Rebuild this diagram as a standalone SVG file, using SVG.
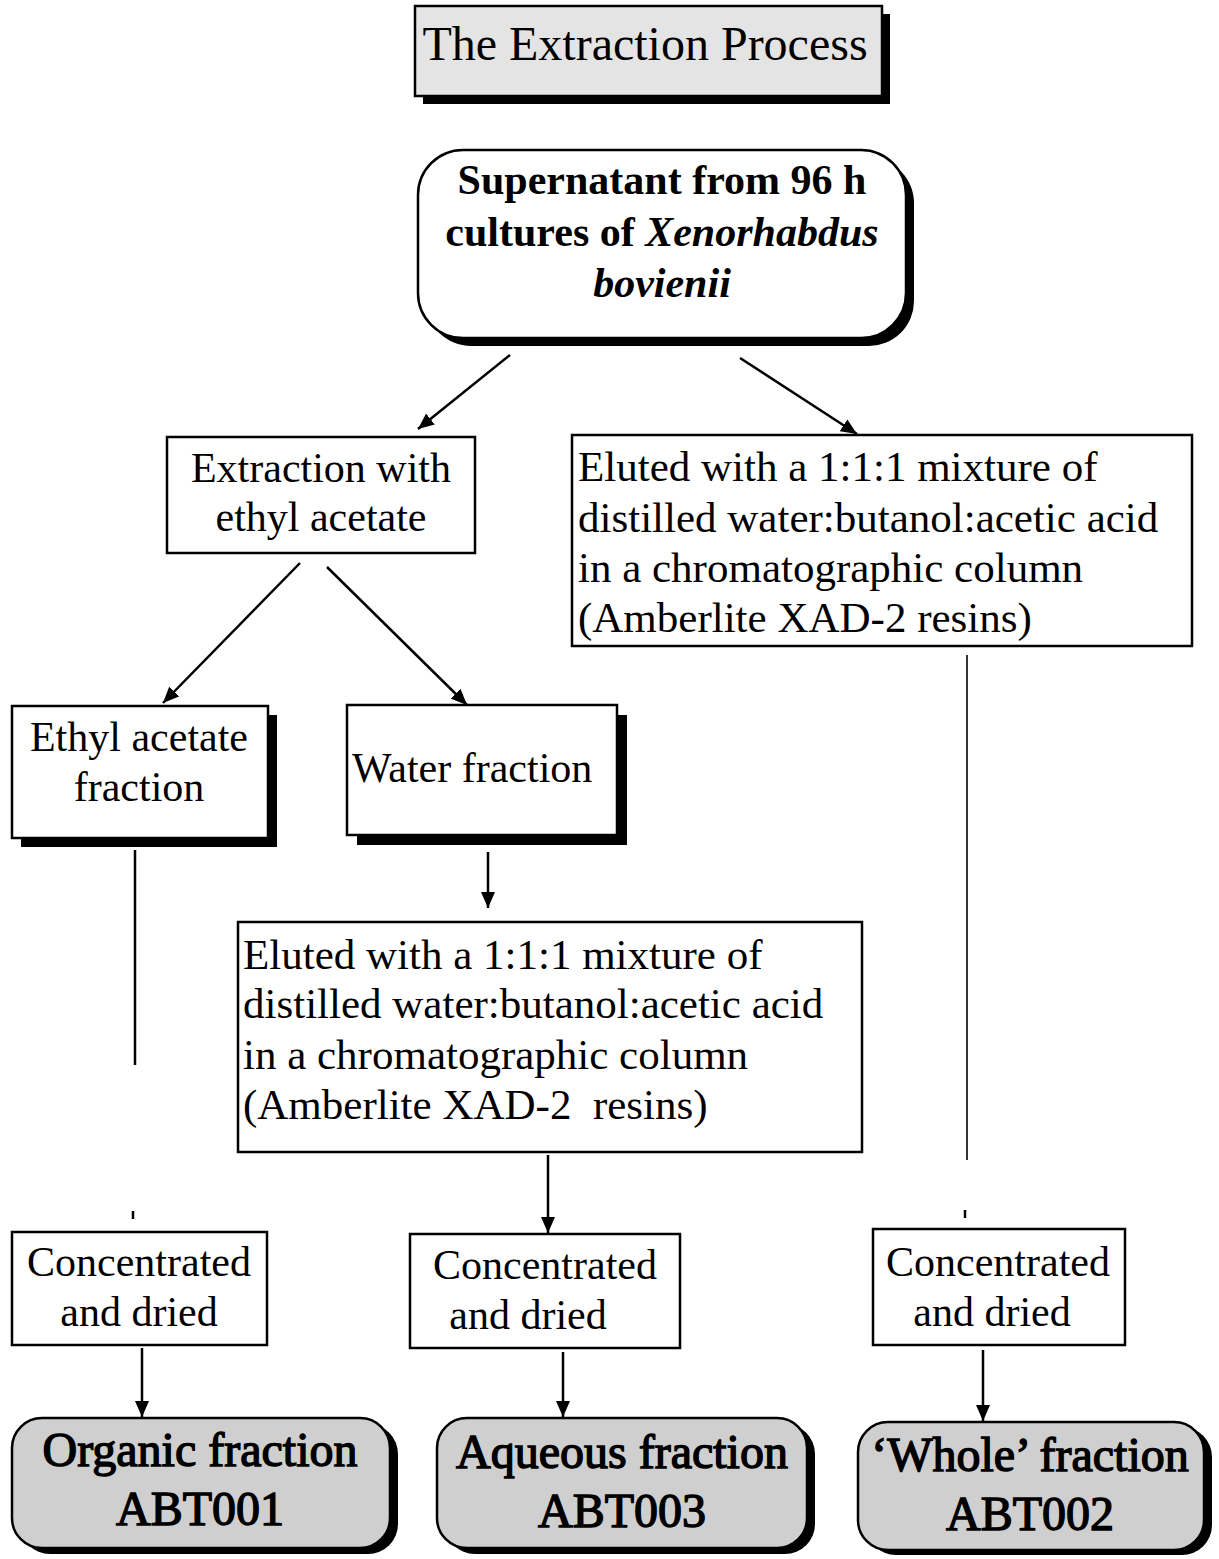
<svg xmlns="http://www.w3.org/2000/svg" width="1219" height="1559" viewBox="0 0 1219 1559">
<style>
.box{fill:#fff;stroke:#000;stroke-width:2.5}
.shadow{fill:#000}
.gbox{fill:#cfcfcf;stroke:#000;stroke-width:2.5}
.tbox{fill:#e4e4e4;stroke:#000;stroke-width:2.5}
.t{font-family:"Liberation Serif","Times New Roman",serif;font-size:42px;fill:#000}
.e{font-size:43px}
.c{text-anchor:middle}
.b{font-weight:bold}
.fin{font-family:"Liberation Serif","Times New Roman",serif;font-size:48px;fill:#000;stroke:#000;stroke-width:1.4;text-anchor:middle}
.conn{stroke:#000;stroke-width:2.5;fill:none}
.thin{stroke:#000;stroke-width:1.6;fill:none}
</style>
<defs>
<marker id="ah" markerUnits="userSpaceOnUse" markerWidth="16" markerHeight="14" refX="16" refY="7" orient="auto">
<path d="M0,0 L16,7 L0,14 z" fill="#000"/>
</marker>
</defs>

<g id="title">
<rect class="shadow" x="423" y="14" width="467" height="90"/>
<rect class="tbox" x="415" y="6" width="467" height="90"/>
<text class="t c" x="645" y="60" style="font-size:48px">The Extraction Process</text>
</g>

<g id="supernatant">
<rect class="shadow" x="426" y="158" width="488" height="188" rx="45"/>
<rect class="box" x="418" y="150" width="488" height="188" rx="45"/>
<text class="t c b" x="662" y="194">Supernatant from 96 h</text>
<text class="t c b" x="662" y="246">cultures of <tspan font-style="italic">Xenorhabdus</tspan></text>
<text class="t c b" x="662" y="297" font-style="italic">bovienii</text>
</g>

<g id="extraction">
<rect class="box" x="167" y="437" width="308" height="116"/>
<text class="t c" x="321" y="482">Extraction with</text>
<text class="t c" x="321" y="531">ethyl acetate</text>
</g>

<g id="eluted-right">
<rect class="box" x="572" y="435" width="620" height="211"/>
<text class="t e" x="578" y="481">Eluted with a 1:1:1 mixture of</text>
<text class="t e" x="578" y="532">distilled water:butanol:acetic acid</text>
<text class="t e" x="578" y="582">in a chromatographic column</text>
<text class="t e" x="578" y="632">(Amberlite XAD-2 resins)</text>
</g>

<g id="ethyl-fraction">
<rect class="shadow" x="21" y="715" width="256" height="132"/>
<rect class="box" x="12" y="706" width="256" height="132"/>
<text class="t c" x="139" y="751">Ethyl acetate</text>
<text class="t c" x="139" y="801">fraction</text>
</g>

<g id="water-fraction">
<rect class="shadow" x="357" y="715" width="270" height="130"/>
<rect class="box" x="347" y="705" width="270" height="130"/>
<text class="t" x="352" y="782">Water fraction</text>
</g>

<g id="eluted-middle">
<rect class="box" x="238" y="922" width="624" height="230"/>
<text class="t e" x="243" y="969">Eluted with a 1:1:1 mixture of</text>
<text class="t e" x="243" y="1018">distilled water:butanol:acetic acid</text>
<text class="t e" x="243" y="1069">in a chromatographic column</text>
<text class="t e" x="243" y="1119" xml:space="preserve">(Amberlite XAD-2  resins)</text>
</g>

<g id="conc-left">
<rect class="box" x="12" y="1232" width="255" height="113"/>
<text class="t c" x="139" y="1276">Concentrated</text>
<text class="t c" x="139" y="1326">and dried</text>
</g>

<g id="conc-middle">
<rect class="box" x="410" y="1234" width="270" height="114"/>
<text class="t c" x="545" y="1279">Concentrated</text>
<text class="t c" x="528" y="1329">and dried</text>
</g>

<g id="conc-right">
<rect class="box" x="873" y="1229" width="252" height="116"/>
<text class="t c" x="998" y="1276">Concentrated</text>
<text class="t c" x="992" y="1326">and dried</text>
</g>

<g id="organic">
<rect class="shadow" x="20" y="1424" width="378" height="130" rx="30"/>
<rect class="gbox" x="12" y="1418" width="378" height="130" rx="30"/>
<text class="fin" x="200" y="1466">Organic fraction</text>
<text class="fin" x="200" y="1525">ABT001</text>
</g>

<g id="aqueous">
<rect class="shadow" x="445" y="1424" width="370" height="130" rx="30"/>
<rect class="gbox" x="437" y="1418" width="370" height="130" rx="30"/>
<text class="fin" x="622" y="1468">Aqueous fraction</text>
<text class="fin" x="622" y="1527">ABT003</text>
</g>

<g id="whole">
<rect class="shadow" x="866" y="1427" width="346" height="128" rx="30"/>
<rect class="gbox" x="858" y="1422" width="346" height="128" rx="30"/>
<text class="fin" x="1030" y="1471">‘Whole’ fraction</text>
<text class="fin" x="1030" y="1530">ABT002</text>
</g>

<g id="connectors">
<line class="conn" x1="510" y1="355" x2="418" y2="429" marker-end="url(#ah)"/>
<line class="conn" x1="740" y1="358" x2="857" y2="434" marker-end="url(#ah)"/>
<line class="conn" x1="300" y1="563" x2="163" y2="703" marker-end="url(#ah)"/>
<line class="conn" x1="327" y1="567" x2="467" y2="705" marker-end="url(#ah)"/>
<line class="conn" x1="135" y1="850" x2="135" y2="1065"/>
<line class="conn" x1="133" y1="1211" x2="133" y2="1219"/>
<line class="conn" x1="488" y1="852" x2="488" y2="908" marker-end="url(#ah)"/>
<line class="conn" x1="548" y1="1155" x2="548" y2="1233" marker-end="url(#ah)"/>
<line class="thin" x1="967" y1="655" x2="967" y2="1160"/>
<line class="conn" x1="965" y1="1210" x2="965" y2="1218"/>
<line class="conn" x1="142" y1="1348" x2="142" y2="1417" marker-end="url(#ah)"/>
<line class="conn" x1="563" y1="1352" x2="563" y2="1417" marker-end="url(#ah)"/>
<line class="conn" x1="983" y1="1350" x2="983" y2="1421" marker-end="url(#ah)"/>
</g>
</svg>
